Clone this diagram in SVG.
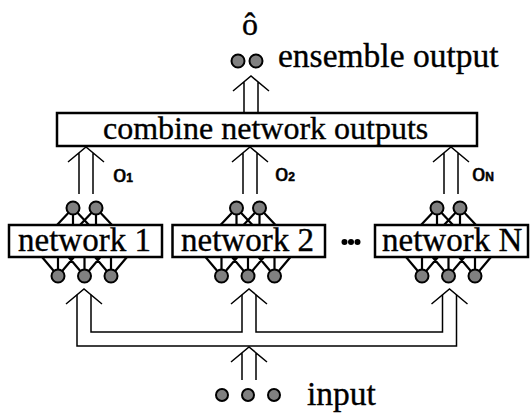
<svg xmlns="http://www.w3.org/2000/svg" width="530" height="414" viewBox="0 0 530 414">
<style>
.box{fill:#fff;stroke:#000;stroke-width:2.5}
.lbl{fill:#000;stroke:#000;stroke-width:0.35}
.sub{fill:#000;stroke:#000;stroke-width:0.5}
.nd{fill:#808080;stroke:#000;stroke-width:2}
.ed{stroke:#000;stroke-width:2.2;fill:none}
.ar{stroke:#000;stroke-width:1.5;fill:none}
</style>
<defs>
<g id="net">
<path class="ed" d="M-11.5,208 l-16,17 M-11.5,208 v17 M-11.5,208 l16,17 M11.5,208 l-16,17 M11.5,208 v17 M11.5,208 l16,17"/>
<path class="ed" d="M-26.5,276 l-16,-19 M-26.5,276 v-19 M-26.5,276 l16,-19 M0,276 l-16,-19 M0,276 v-19 M0,276 l16,-19 M26.5,276 l-16,-19 M26.5,276 v-19 M26.5,276 l16,-19"/>
<circle class="nd" cx="-11.5" cy="208" r="6.5"/>
<circle class="nd" cx="11.5" cy="208" r="6.5"/>
<circle class="nd" cx="-26.5" cy="276" r="6.5"/>
<circle class="nd" cx="0" cy="276" r="6.5"/>
<circle class="nd" cx="26.5" cy="276" r="6.5"/>
</g>
</defs>

<g id="connectors">
<path class="ar" d="M233,91 L251,76 L269,91 M244,81.8 V112 M258,81.8 V112"/>
<path class="ar" d="M68,162 L86,147 L104,162 M79,152.8 V194 M93,152.8 V194"/>
<path class="ar" d="M232,162 L250,147 L268,162 M243,152.8 V194 M257,152.8 V194"/>
<path class="ar" d="M433,162 L451,147 L469,162 M444,152.8 V194 M458,152.8 V194"/>
<path class="ar" d="M66,304 L84,289 L102,304"/>
<path class="ar" d="M231,304 L249,289 L267,304"/>
<path class="ar" d="M431.5,304 L449.5,289 L467.5,304"/>
<path class="ar" d="M77,294.8 V346 H456.5 V294.8"/>
<path class="ar" d="M91,294.8 V332 H242 V294.8"/>
<path class="ar" d="M256,294.8 V332 H442.5 V294.8"/>
<path class="ar" d="M231,362 L249,347 L267,362 M242,352.8 V380 M256,352.8 V380"/>
</g>

<g id="ensemble-output">
<text class="lbl" x="250" y="35" font-size="32" text-anchor="middle" font-family="Liberation Serif, Times New Roman, serif">ô</text>
<circle class="nd" cx="238" cy="61" r="6.5"/>
<circle class="nd" cx="256" cy="61" r="6.5"/>
<text class="lbl" x="278" y="67" font-size="33.5" font-family="Liberation Serif, Times New Roman, serif">ensemble output</text>
</g>

<g id="combine">
<rect class="box" x="57" y="113" width="420" height="33"/>
<text class="lbl" x="103" y="139" font-size="32" font-family="Liberation Serif, Times New Roman, serif">combine network outputs</text>
</g>

<g id="labels" font-family="Liberation Sans, Arial, sans-serif">
<text class="sub" x="113" y="181.5" font-size="24">o<tspan font-size="12" font-weight="bold">1</tspan></text>
<text class="sub" x="275" y="181" font-size="24">o<tspan font-size="12" font-weight="bold">2</tspan></text>
<text class="sub" x="472" y="180.5" font-size="24">o<tspan font-size="12" font-weight="bold">N</tspan></text>
</g>

<g id="network1">
<use href="#net" x="84.5" y="0"/>
<rect class="box" x="9" y="225" width="153" height="32"/>
<text class="lbl" x="18" y="251" font-size="33" font-family="Liberation Serif, Times New Roman, serif">network 1</text>
</g>

<g id="network2">
<use href="#net" x="248" y="0"/>
<rect class="box" x="172.5" y="225" width="152.5" height="32"/>
<text class="lbl" x="181" y="251" font-size="33" font-family="Liberation Serif, Times New Roman, serif">network 2</text>
</g>

<g id="ellipsis">
<circle cx="344.5" cy="242" r="3"/>
<circle cx="351" cy="242" r="3"/>
<circle cx="357.5" cy="242" r="3"/>
</g>

<g id="networkN">
<use href="#net" x="448.5" y="0"/>
<rect class="box" x="375" y="225" width="153" height="32"/>
<text class="lbl" x="382" y="251" font-size="33" font-family="Liberation Serif, Times New Roman, serif">network N</text>
</g>

<g id="input">
<circle class="nd" cx="222" cy="395" r="6"/>
<circle class="nd" cx="248" cy="395" r="6"/>
<circle class="nd" cx="274" cy="395" r="6"/>
<text class="lbl" x="307" y="405" font-size="33.5" font-family="Liberation Serif, Times New Roman, serif">input</text>
</g>
</svg>
